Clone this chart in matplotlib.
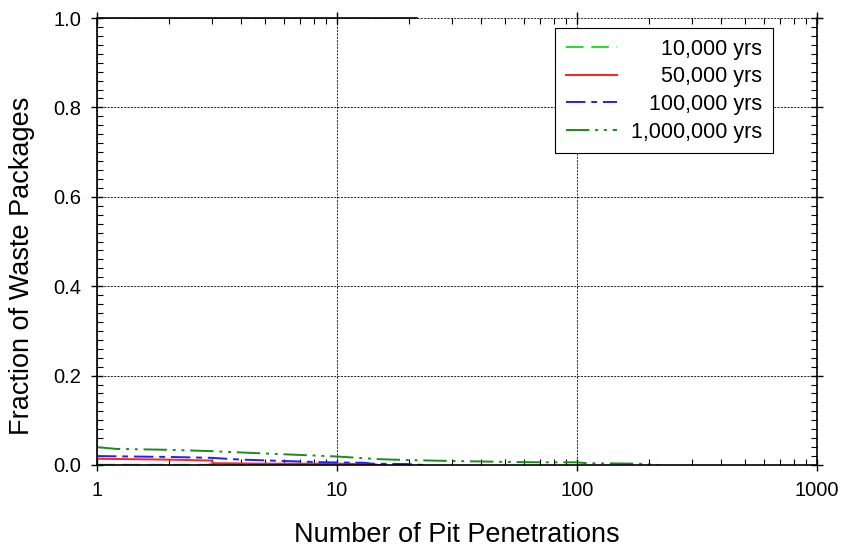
import matplotlib
matplotlib.use("Agg")
import matplotlib.pyplot as plt
from matplotlib.ticker import FixedLocator, NullFormatter, MultipleLocator, FixedFormatter

plt.rcParams['font.family'] = ['Liberation Sans', 'DejaVu Sans']

# ---- data ----
series_labels = ["10,000 yrs", "50,000 yrs", "100,000 yrs", "1,000,000 yrs"]

x_10k = [1, 2.9, 3.0, 5, 7, 8]
y_10k = [0.0005, 0.0005, 0.003, 0.002, 0.002, 0.0]

x_50k = [1, 2, 3, 3.05, 5, 10, 14, 15]
y_50k = [0.014, 0.012, 0.010, 0.004, 0.003, 0.003, 0.002, 0.0]

x_100k = [1, 2, 3, 4, 6, 9, 13, 14, 20, 23]
y_100k = [0.020, 0.018, 0.016, 0.012, 0.009, 0.006, 0.005, 0.003, 0.002, 0.0]

x_1m = [1, 1.2, 2, 3, 4, 6, 10, 15, 20, 30, 50, 70, 100, 110, 180, 220]
y_1m = [0.040, 0.036, 0.034, 0.031, 0.028, 0.024, 0.019, 0.013, 0.011, 0.009,
        0.007, 0.006, 0.006, 0.004, 0.003, 0.0]

x_major = [1, 10, 100, 1000]
x_major_labels = ["1", "10", "100", "1000"]
y_major = [0.0, 0.2, 0.4, 0.6, 0.8, 1.0]
y_major_labels = ["0.0", "0.2", "0.4", "0.6", "0.8", "1.0"]

top_spine_end = 21.5

# ---- figure ----
fig = plt.figure(figsize=(8.42, 5.49), dpi=100)
ax = fig.add_axes([97 / 842, 84 / 549, 720 / 842, 447 / 549])

lw = 1.4
ax.plot(x_10k, y_10k, color='#22e022', lw=lw, ls=(0, (9, 4)), label=series_labels[0])
ax.plot(x_50k, y_50k, color='#ff2020', lw=lw, ls='-', label=series_labels[1])
ax.plot(x_100k, y_100k, color='#2020ff', lw=lw, ls=(0, (10, 3, 3, 3)), label=series_labels[2])
ax.plot(x_1m, y_1m, color='#1a8c1a', lw=lw, ls=(0, (12, 3, 1.5, 3, 1.5, 3)), label=series_labels[3])

ax.set_xscale('log')
ax.set_xlim(1, 1000)
ax.set_ylim(0, 1.0)

ax.xaxis.set_major_locator(FixedLocator(x_major))
ax.xaxis.set_major_formatter(FixedFormatter(x_major_labels))
minors = [m * d for d in (1, 10, 100) for m in range(2, 10)]
ax.xaxis.set_minor_locator(FixedLocator(minors))
ax.xaxis.set_minor_formatter(NullFormatter())
ax.yaxis.set_major_locator(FixedLocator(y_major))
ax.yaxis.set_major_formatter(FixedFormatter(y_major_labels))
ax.yaxis.set_minor_locator(MultipleLocator(0.02))

ax.tick_params(which='major', direction='inout', length=9, width=1.0,
               top=True, right=True, labelsize=14.5, pad=7)
ax.tick_params(which='minor', direction='in', length=4, width=0.8,
               top=True, right=True)

ax.grid(True, which='major', color='black', lw=0.6, ls=(0, (2.5, 1.5)))

for s in ('left', 'right', 'bottom'):
    ax.spines[s].set_linewidth(1.2)
ax.spines['top'].set_visible(False)
ax.plot([1, top_spine_end], [1, 1], color='black', lw=1.2,
        transform=ax.get_xaxis_transform(), clip_on=False)

ax.set_xlabel("Number of Pit Penetrations", fontsize=19.5, labelpad=16)
ax.set_ylabel("Fraction of Waste Packages", fontsize=19.5, labelpad=13)
ax.yaxis.label.set_y(0.445)

leg = ax.legend(loc='upper right', bbox_to_anchor=(0.939, 0.978), borderaxespad=0,
                fontsize=15.5, handlelength=2.37, handletextpad=0.65, labelspacing=0.31,
                borderpad=0.5, fancybox=False, framealpha=1, edgecolor='black')
leg.get_frame().set_linewidth(0.8)

# right-align legend labels
fig.canvas.draw()
r = fig.canvas.get_renderer()
widths = [t.get_window_extent(r).width for t in leg.get_texts()]
wmax = max(widths)
for t, w in zip(leg.get_texts(), widths):
    t.set_x(wmax - w)

fig.savefig("out.png", dpi=100)
